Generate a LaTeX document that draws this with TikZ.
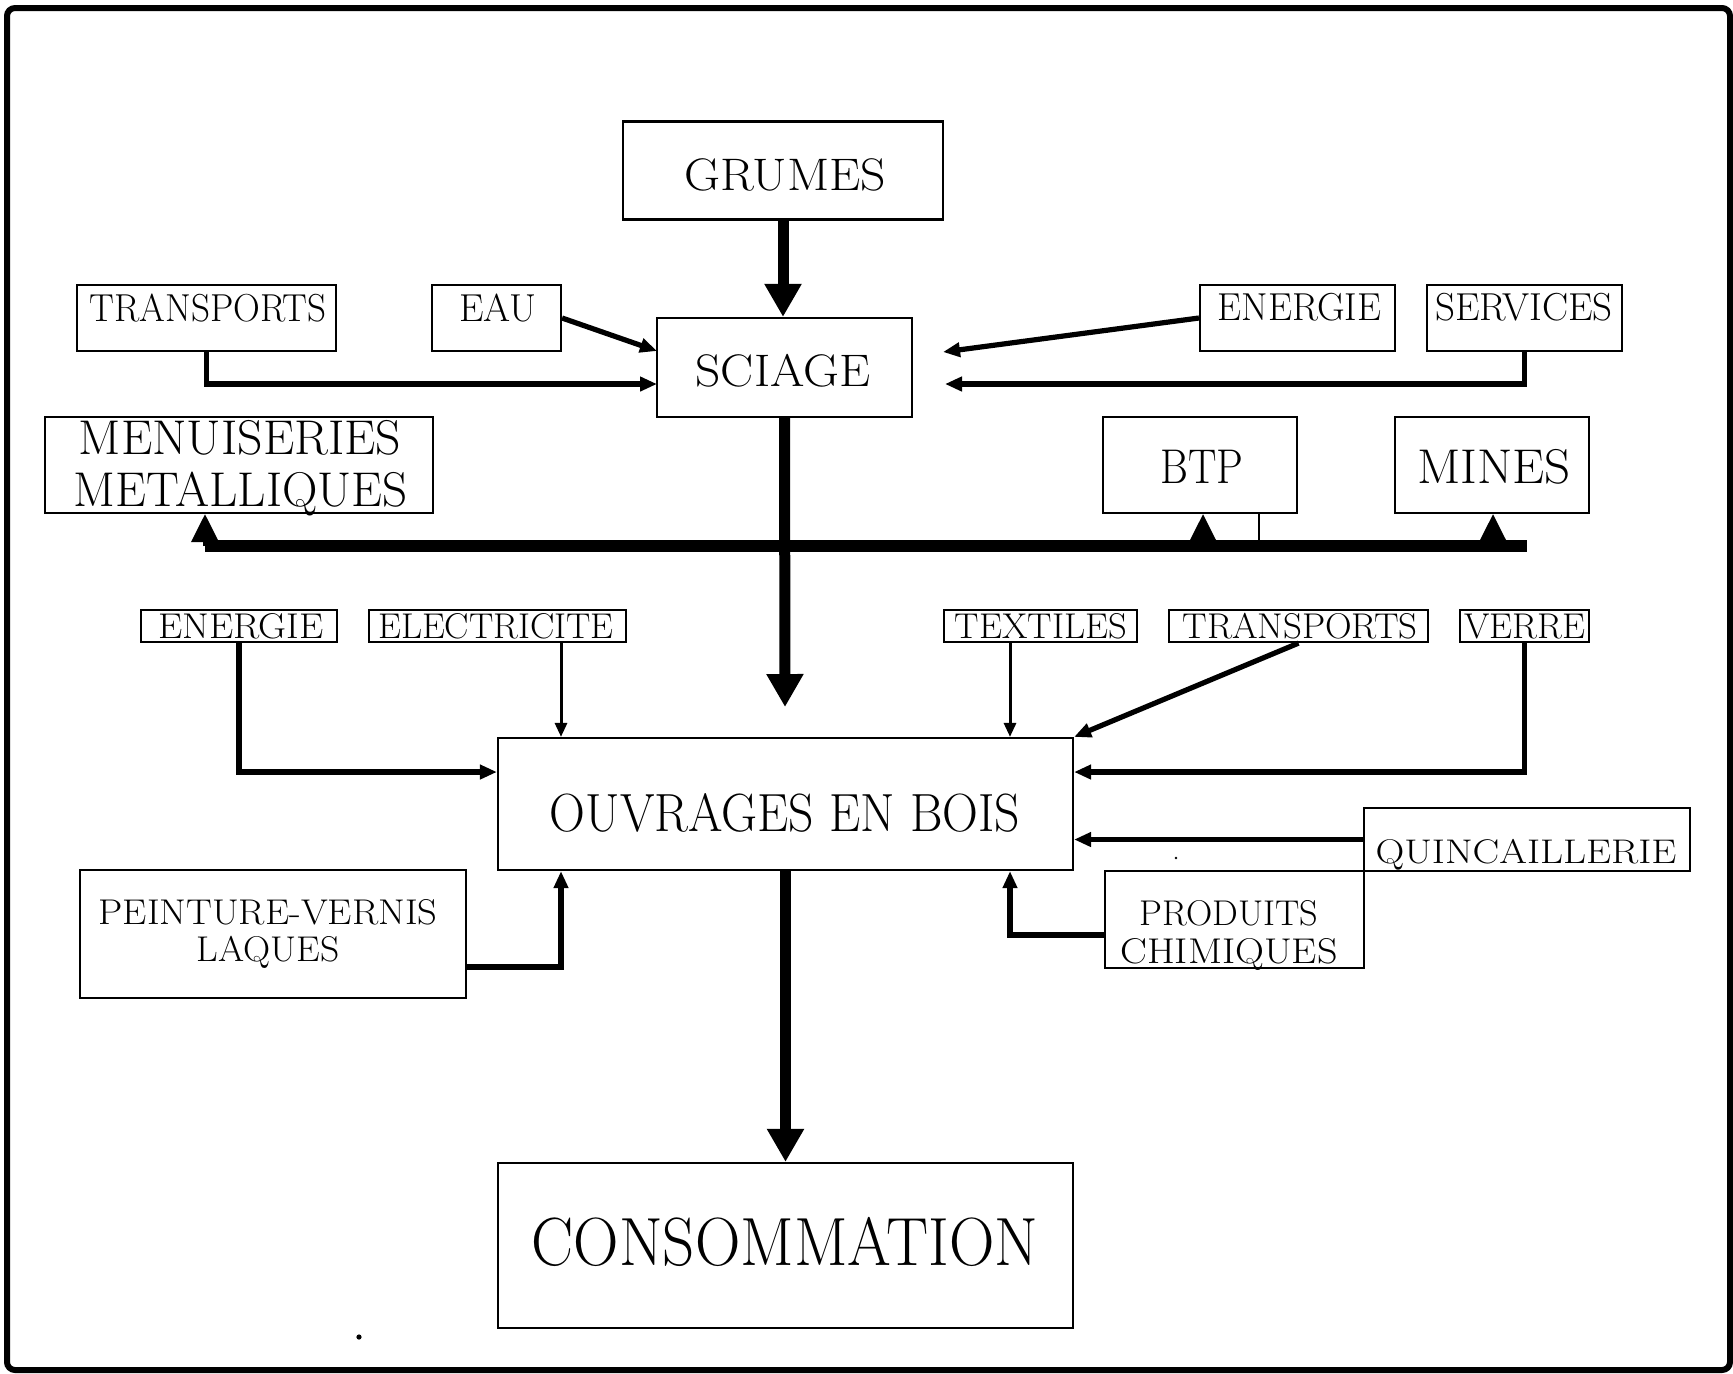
\documentclass[tikz,border=0pt]{standalone}
\usepackage{graphicx}
\usetikzlibrary{arrows.meta,calc}
% horizontal width adjustment of a label, and a font size in pt
\newcommand\wsc[2]{\scalebox{#1}[1]{#2}}
\newcommand\fsz[1]{\fontsize{#1pt}{#1pt}\selectfont}
\begin{document}
\begin{tikzpicture}[x=0.5pt,y=-0.5pt,
  box/.style={draw,line width=1.1pt,inner sep=0pt},
  sz/.style 2 args={minimum width={#1*0.5pt},minimum height={#2*0.5pt}},
  lbl/.style={anchor=base,inner sep=0pt},
  flowheavy/.style={line width=5.5pt,-{Triangle[width=17.5pt,length=16.5pt]}},
  flowmed/.style={line width=2.6pt,-{Triangle[width=7pt,length=8.5pt]}},
  flowthin/.style={line width=1.5pt,-{Triangle[width=6pt,length=7pt]}},
  barup/.style={line width=2pt,-{Triangle[width=13.5pt,length=14pt]}}]
\useasboundingbox (0,0) rectangle (1733,1373);
\fill[white] (0,0) rectangle (1733,1373);
% outer frame
\draw[line width=3pt,rounded corners=4pt] (7,8) rectangle (1730,1370);

% boxes
\node[box,sz={320}{98}]  (grumes) at (783,170.5) {};
\node[box,sz={255}{99}]  (sciage) at (784.5,367.5) {};
\node[box,sz={259}{66}]  (tr1)    at (206.5,318) {};
\node[box,sz={129}{66}]  (eau)    at (496.5,318) {};
\node[box,sz={195}{66}]  (en1)    at (1297.5,318) {};
\node[box,sz={195}{66}]  (serv)   at (1524.5,318) {};
\node[box,sz={388}{96}]  (menu)   at (239,465) {};
\node[box,sz={194}{96}]  (btp)    at (1200,465) {};
\node[box,sz={194}{96}]  (mines)  at (1492,465) {};
\node[box,sz={196}{32}]  (en2)    at (239,626) {};
\node[box,sz={257}{32}]  (elec)   at (497.5,626) {};
\node[box,sz={193}{32}]  (textl)  at (1040.5,626) {};
\node[box,sz={259}{32}]  (tr2)    at (1298.5,626) {};
\node[box,sz={129}{32}]  (verre)  at (1524.5,626) {};
\node[box,sz={575}{132}] (ouv)    at (785.5,804) {};
\node[box,sz={386}{128}] (peint)  at (273,934) {};
\node[box,sz={326}{63}]  (quinc)  at (1527,839.5) {};
\node[box,sz={259}{97}]  (prod)   at (1234.5,919.5) {};
\node[box,sz={575}{165}] (cons)   at (785.5,1245.5) {};

% labels
\node[lbl,font=\fsz{22.8}] (grumesL) at (785,190) {\wsc{1.09}{GRUMES}};
\node[lbl,font=\fsz{22.8}] (sciageL) at (783,386) {\wsc{1.086}{SCIAGE}};
\node[lbl,font=\fsz{19.5}] (tr1L) at (208,321) {\wsc{0.952}{TRANSPORTS}};
\node[lbl,font=\fsz{19.5}] (eauL) at (498,321) {\wsc{1.0}{EAU}};
\node[lbl,font=\fsz{19.5}] (en1L) at (1299.5,320) {\wsc{0.978}{ENERGIE}};
\node[lbl,font=\fsz{19.5}] (servL) at (1524,320) {\wsc{1.0}{SERVICES}};
\node[lbl,font=\fsz{24.4}] (menuL1) at (240,454) {\wsc{1.02}{MENUISERIES}};
\node[lbl,font=\fsz{24.4}] (menuL2) at (240.6,506) {\wsc{1.007}{METALLIQUES}};
\node[lbl,font=\fsz{24.4}] (btpL) at (1202,483) {\wsc{0.872}{BTP}};
\node[lbl,font=\fsz{24.4}] (minesL) at (1494,483) {\wsc{1.046}{MINES}};
\node[lbl,font=\fsz{17.9}] (en2L) at (241,638) {\wsc{1.076}{ENERGIE}};
\node[lbl,font=\fsz{17.9}] (elecL) at (496,638) {\wsc{1.018}{ELECTRICITE}};
\node[lbl,font=\fsz{17.9}] (textL) at (1041,638) {\wsc{1.023}{TEXTILES}};
\node[lbl,font=\fsz{17.9}] (tr2L) at (1300,638) {\wsc{1.031}{TRANSPORTS}};
\node[lbl,font=\fsz{17.9}] (verreL) at (1525,638) {\wsc{1.022}{VERRE}};
\node[lbl,font=\fsz{26.9}] (ouvL) at (785,831) {\wsc{0.924}{OUVRAGES EN BOIS}};
\node[lbl,font=\fsz{17.9}] (peintL1) at (268,924) {\wsc{1.078}{PEINTURE-VERNIS}};
\node[lbl,font=\fsz{17.9}] (peintL2) at (268,961) {\wsc{1.05}{LAQUES}};
\node[lbl,font=\fsz{17.1}] (quincL) at (1526,863) {\wsc{1.167}{QUINCAILLERIE}};
\node[lbl,font=\fsz{17.9}] (prodL1) at (1229,925) {\wsc{1.016}{PRODUITS}};
\node[lbl,font=\fsz{17.9}] (prodL2) at (1229,963) {\wsc{1.12}{CHIMIQUES}};
\node[lbl,font=\fsz{34.1}] (consL) at (785,1265) {\wsc{0.924}{CONSOMMATION}};

% helper points for bends and arrow ends
\coordinate (eauTip) at (657,351);
\coordinate (trTip)  at (657,384);
\coordinate (enTip)  at (943,352);
\coordinate (svTip)  at (945,384);
\coordinate (trunk)  at (785,707);
\coordinate (barL)   at (205,546);
\coordinate (barR)   at (1527,546);
\coordinate (barB)   at (1203,546);
\coordinate (barM)   at (1493,546);
\coordinate (tick)   at (1259,541);
\coordinate (xl)     at (561,0);
\coordinate (xr)     at (1010,0);
\coordinate (enY)    at (0,772);
\coordinate (peJ)    at (561,967);
\coordinate (prJ)    at (1010,935);

% main flow
\draw[flowheavy] (grumes.south) -- (grumes.south |- sciage.north);
\draw[flowheavy] (sciage.south) -- (trunk);
\draw[line width=6.3pt] (barL) -- (barR);
\draw[barup] (barL) -- (barL |- menu.south);
\draw[barup] (barB) -- (barB |- btp.south);
\draw[barup] (barM) -- (barM |- mines.south);
\draw[line width=0.7pt] (tick |- btp.south) -- (tick);
\draw[flowheavy] (ouv.south) -- (ouv.south |- cons.north);

% inputs to SCIAGE
\draw[flowmed] (eau.east) -- (eauTip);
\draw[flowmed] (tr1.south) |- (trTip);
\draw[flowmed] (en1.west) -- (enTip);
\draw[flowmed] (serv.south) |- (svTip);

% inputs to OUVRAGES EN BOIS
\draw[flowmed] (en2.south) -- (en2.south |- enY) -- (enY -| ouv.west);
\draw[flowthin] (elec.south -| xl) -- (ouv.north -| xl);
\draw[flowthin] (textl.south -| xr) -- (ouv.north -| xr);
\draw[flowmed] (tr2.south) -- (ouv.north east);
\draw[flowmed] (verre.south) -- (verre.south |- enY) -- (enY -| ouv.east);
\draw[flowmed] (quinc.west) -- (quinc.west -| ouv.east);
\draw[flowmed] (prod.west |- prJ) -- (prJ) -- (ouv.south -| prJ);
\draw[flowmed] (peint.east |- peJ) -- (peJ) -- (ouv.south -| peJ);

% specks
\fill (359,1337) circle (1.3pt);
\fill (1176,858) circle (0.7pt);
\end{tikzpicture}
\end{document}
